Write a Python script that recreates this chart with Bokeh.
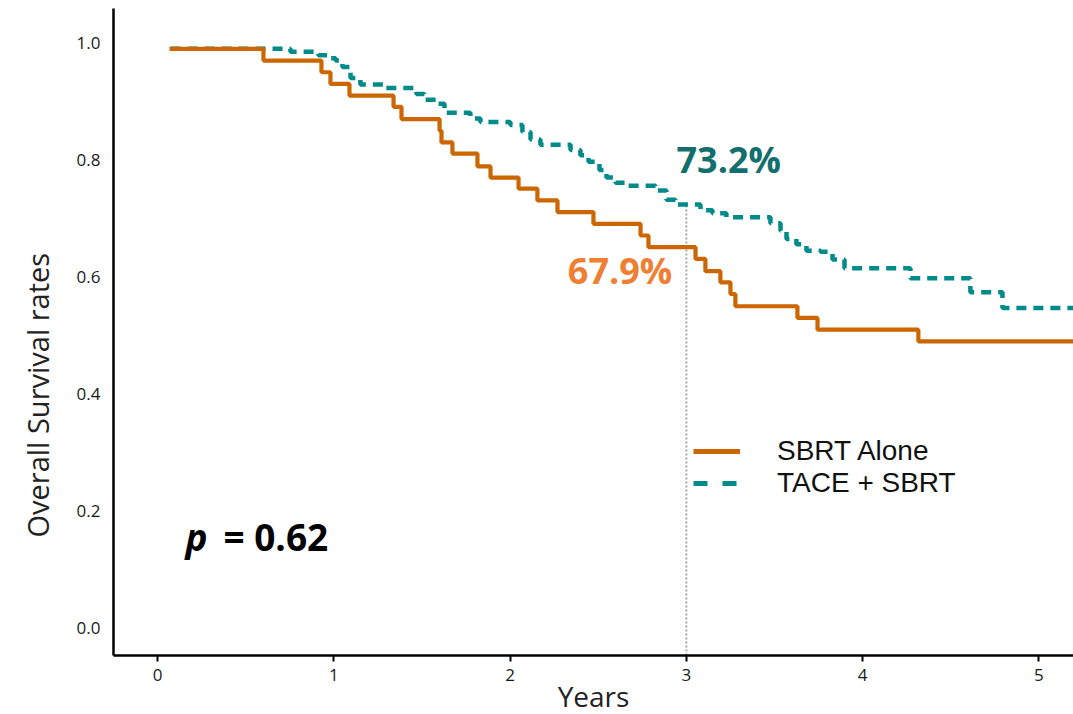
from bokeh.plotting import figure
from bokeh.models import (Label, Legend, LegendItem, Range1d, ColumnDataSource,
                          CustomJSTickFormatter, Title)
from bokeh.embed import file_html
from bokeh.resources import INLINE

# ---- data ----
sbrt_t = [0.068, 0.601, 0.930, 0.981, 1.089, 1.339, 1.384, 1.600, 1.611, 1.673,
          1.815, 1.889, 2.048, 2.155, 2.269, 2.473, 2.740, 2.785, 3.052, 3.108,
          3.193, 3.250, 3.278, 3.630, 3.744, 4.316, 5.25]
sbrt_s = [0.990, 0.970, 0.950, 0.930, 0.910, 0.891, 0.870, 0.850, 0.830, 0.811,
          0.789, 0.770, 0.751, 0.731, 0.711, 0.691, 0.671, 0.651, 0.631, 0.610,
          0.591, 0.571, 0.550, 0.530, 0.510, 0.490, 0.490]

tace_t = [0.074, 0.754, 0.913, 0.964, 1.010, 1.049, 1.095, 1.151, 1.293, 1.469,
          1.514, 1.583, 1.628, 1.775, 1.832, 2.002, 2.070, 2.116, 2.172, 2.343,
          2.399, 2.445, 2.507, 2.547, 2.598, 2.672, 2.825, 2.887, 2.938, 3.080,
          3.148, 3.227, 3.477, 3.534, 3.568, 3.624, 3.681, 3.761, 3.829, 3.897,
          4.271, 4.611, 4.793, 5.25]
tace_s = [0.990, 0.985, 0.979, 0.974, 0.970, 0.959, 0.940, 0.929, 0.923, 0.913,
          0.903, 0.896, 0.881, 0.871, 0.865, 0.860, 0.848, 0.835, 0.826, 0.817,
          0.808, 0.797, 0.783, 0.770, 0.761, 0.756, 0.748, 0.732, 0.724, 0.714,
          0.709, 0.702, 0.692, 0.679, 0.665, 0.656, 0.645, 0.643, 0.630, 0.615,
          0.598, 0.574, 0.547, 0.547]

series_names = ["SBRT Alone", "TACE + SBRT"]
milestone_year = 3
milestone_tace = 0.726
milestone_labels = ["73.2%", "67.9%"]
p_value_text = "= 0.62"
x_title = "Years"
y_title = "Overall Survival rates"
x_ticks = [0, 1, 2, 3, 4, 5]
y_ticks = [0.0, 0.2, 0.4, 0.6, 0.8, 1.0]

ORANGE = "#CC6600"
TEAL = "#008B8B"
FONT = "Open Sans"

x_lo, x_hi = -0.2496, 5.196
y_lo, y_hi = -0.047, 1.059

p = figure(width=1073, height=714, output_backend="svg", toolbar_location=None,
           x_range=Range1d(x_lo, x_hi), y_range=Range1d(y_lo, y_hi),
           min_border_left=113, min_border_right=0, min_border_top=8,
           min_border_bottom=59)
p.outline_line_color = None
p.xgrid.visible = False
p.ygrid.visible = False
p.background_fill_color = "white"

# axes
p.xaxis.ticker = x_ticks
p.yaxis.ticker = y_ticks
p.yaxis.formatter = CustomJSTickFormatter(code="return tick.toFixed(1);")
for ax in (p.xaxis[0], p.yaxis[0]):
    ax.axis_line_color = "black"
    ax.axis_line_width = 2.5
    ax.major_label_text_font = FONT
    ax.major_label_text_font_size = "17px"
    ax.major_label_text_color = "#1a1a1a"
    ax.minor_tick_line_color = None
p.xaxis.major_tick_line_color = "black"
p.xaxis.major_tick_line_width = 2
p.xaxis.major_tick_out = 6
p.xaxis.major_tick_in = 0
p.xaxis.major_label_standoff = 7
p.yaxis.major_tick_line_color = None
p.yaxis.major_tick_out = 0
p.yaxis.major_tick_in = 0
p.yaxis.major_label_standoff = 13

# axis titles (as side titles so they can sit where the reference has them)
p.add_layout(Title(text=x_title, align="center", vertical_align="middle",
                   standoff=-16, text_font=FONT, text_font_size="28px",
                   text_font_style="normal", text_color="#222222"), "below")
p.add_layout(Title(text=y_title, align="left", offset=118, vertical_align="middle",
                   standoff=32, text_font=FONT, text_font_size="29px",
                   text_font_style="normal", text_color="#222222"), "left")

# milestone dotted line
p.segment(x0=[milestone_year], y0=[y_lo], x1=[milestone_year], y1=[milestone_tace],
          line_color="#A8A8A8", line_width=2, line_dash="2 2")

# curves
p.step(x=tace_t, y=tace_s, mode="after", line_color=TEAL, line_width=4.5,
       line_dash="10 7")
p.step(x=sbrt_t, y=sbrt_s, mode="after", line_color=ORANGE, line_width=4.2)

# legend-only glyphs (no visible points)
nan_src = ColumnDataSource(data=dict(x=[float("nan")], y=[float("nan")]))
l1 = p.line(x="x", y="y", source=nan_src, line_color=ORANGE, line_width=5)
l2 = p.line(x="x", y="y", source=nan_src, line_color=TEAL, line_width=5,
            line_dash="14 15")
legend = Legend(items=[LegendItem(label=series_names[0], renderers=[l1]),
                       LegendItem(label=series_names[1], renderers=[l2])],
                location=(580, 156), orientation="vertical",
                label_text_font="Liberation Sans", label_text_font_size="28px",
                label_text_color="#111111",
                glyph_width=47, glyph_height=30, label_height=30, spacing=0,
                label_standoff=37, padding=0, margin=0,
                border_line_alpha=0, background_fill_alpha=0)
p.add_layout(legend)

# annotations
p.add_layout(Label(x=2.944, y=0.801, text=milestone_labels[0], text_font=FONT,
                   text_font_size="36px", text_font_style="bold",
                   text_color="#136E6E", text_baseline="alphabetic", text_align="left"))
p.add_layout(Label(x=2.92, y=0.611, text=milestone_labels[1], text_font=FONT,
                   text_font_size="36px", text_font_style="bold",
                   text_color="#EE7F33", text_baseline="alphabetic", text_align="right"))
p.add_layout(Label(x=0.159, y=0.157, text="p", text_font=FONT,
                   text_font_size="37px", text_font_style="bold italic",
                   text_color="black", text_baseline="alphabetic", text_align="left"))
p.add_layout(Label(x=0.374, y=0.157, text=p_value_text, text_font=FONT,
                   text_font_size="37px", text_font_style="bold",
                   text_color="black", text_baseline="alphabetic", text_align="left"))

open("out.html", "w").write(file_html(p, INLINE))
